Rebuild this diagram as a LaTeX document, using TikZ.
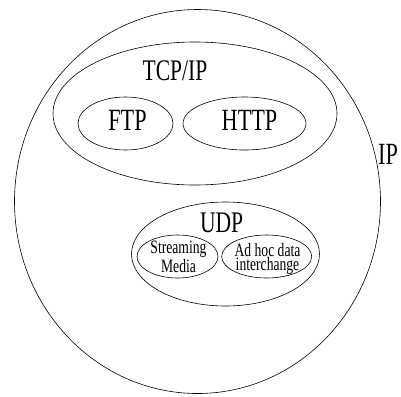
\documentclass[tikz,border=0pt]{standalone}
\usepackage{fontspec}
\setmainfont{Liberation Serif}[FakeStretch=0.72]
\usetikzlibrary{shapes.geometric}

\begin{document}
\begin{tikzpicture}[x=1bp, y=-1bp,
  ring/.style={draw, ellipse, line width=0.6pt, inner sep=0pt},
  lab/.style={inner sep=0pt, anchor=base, font=\fontsize{#1}{#1}\selectfont},
  small/.style={inner sep=0pt, align=center, font=\fontsize{19}{14.5}\selectfont},
]
\useasboundingbox (0,0) rectangle (401,397);

% layers
\node[ring, minimum width=366bp, minimum height=384bp] (ip)    at (197.5,201.5) {};
\node[ring, minimum width=284bp, minimum height=143bp] (tcp)   at (195,113.5) {};
\node[ring, minimum width=95bp,  minimum height=53bp]  (ftp)   at (125.5,123.5) {};
\node[ring, minimum width=123bp, minimum height=53bp]  (http)  at (244.5,123.5) {};
\node[ring, minimum width=188bp, minimum height=104bp] (udp)   at (225.5,254) {};
\node[ring, minimum width=81bp,  minimum height=43bp]  (strm)  at (177.5,256.5) {};
\node[ring, minimum width=90bp,  minimum height=43bp]  (adhoc) at (266.7,256.5) {};

% labels
\node[lab=31] (iplab)    at (388,164)   {IP};
\node[lab=30] (tcplab)   at (175,80)    {TCP/IP};
\node[lab=31] (ftplab)   at (127.5,130) {FTP};
\node[lab=31] (httplab)  at (249.5,130) {HTTP};
\node[lab=30] (udplab)   at (221.7,232) {UDP};
\node[small]  (strmlab)  at (178.5,256.8) {Streaming\\Media};
\node[small]  (adhoclab) at (267.5,258.9) {Ad hoc data\\interchange};
\end{tikzpicture}
\end{document}
